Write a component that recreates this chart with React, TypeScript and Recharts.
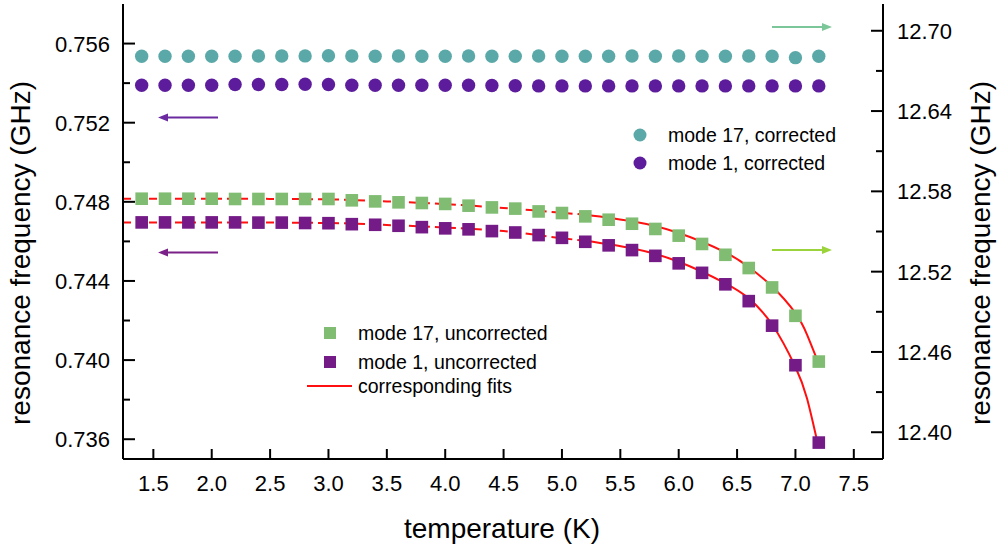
import React from "react"
import { ComposedChart, Scatter, Line, XAxis, YAxis } from "recharts"

const FONT = '"Liberation Sans", Arial, sans-serif'

// temperature (K)
const TEMPS = [
  1.4, 1.6, 1.8, 2.0, 2.2, 2.4, 2.6, 2.8, 3.0, 3.2, 3.4, 3.6, 3.8, 4.0, 4.2,
  4.4, 4.6, 4.8, 5.0, 5.2, 5.4, 5.6, 5.8, 6.0, 6.2, 6.4, 6.6, 6.8, 7.0, 7.2,
]

// mode 17, corrected (right axis)
const MODE17_CORR = [
  12.681, 12.681, 12.681, 12.681, 12.681, 12.6811, 12.6811, 12.6812, 12.6813, 12.6811,
  12.681, 12.6811, 12.681, 12.681, 12.6811, 12.681, 12.681, 12.6811, 12.681, 12.681,
  12.681, 12.6811, 12.681, 12.6811, 12.681, 12.681, 12.6811, 12.681, 12.6799, 12.681,
]

// mode 1, corrected (left axis)
const MODE1_CORR = [
  0.75389, 0.75389, 0.75389, 0.75389, 0.75393, 0.75393, 0.75393, 0.75394, 0.75393, 0.75389,
  0.75389, 0.75389, 0.75389, 0.75389, 0.75389, 0.75388, 0.75387, 0.75386, 0.75386, 0.75386,
  0.75386, 0.75386, 0.75386, 0.75386, 0.75386, 0.75386, 0.75386, 0.75386, 0.75386, 0.75386,
]

// mode 17, uncorrected (right axis)
const MODE17_UNCORR = [
  12.5745, 12.5745, 12.5745, 12.5745, 12.5743, 12.5743, 12.5743, 12.5743, 12.5743, 12.5733,
  12.5725, 12.5718, 12.5713, 12.5706, 12.5693, 12.568, 12.5671, 12.565, 12.5638, 12.5613,
  12.5588, 12.5558, 12.5519, 12.5469, 12.5407, 12.5326, 12.5227, 12.5082, 12.487, 12.4528,
]

// mode 1, uncorrected (left axis)
const MODE1_UNCORR = [
  0.74696, 0.74696, 0.74696, 0.74696, 0.74696, 0.74695, 0.74695, 0.74693, 0.74692, 0.74687,
  0.74684, 0.74679, 0.74672, 0.74666, 0.74661, 0.74652, 0.74645, 0.74632, 0.74618, 0.74598,
  0.7458, 0.74556, 0.74527, 0.74489, 0.74441, 0.74383, 0.74298, 0.74174, 0.73974, 0.73583,
]

// fits: dashed part (extrapolated) and solid part
const FIT17_DASH_T = [1.24, 2.0, 3.0, 3.5, 4.0, 4.5, 5.0, 5.2]
const FIT17_DASH = [12.5745, 12.5745, 12.574, 12.5725, 12.5705, 12.5676, 12.564, 12.5625]
const FIT17_SOLID_T = [5.2, 5.6, 6.0, 6.4, 6.6, 6.8, 7.0, 7.1, 7.19]
const FIT17_SOLID = [12.5625, 12.5576, 12.5489, 12.5344, 12.5234, 12.5089, 12.489, 12.4728, 12.4533]

const FIT1_DASH_T = [1.24, 2.0, 3.0, 3.5, 4.0, 4.5, 5.0, 5.2]
const FIT1_DASH = [0.74696, 0.74696, 0.74693, 0.74683, 0.7467, 0.74652, 0.74616, 0.74603]
const FIT1_SOLID_T = [5.2, 5.6, 6.0, 6.4, 6.6, 6.8, 7.0, 7.1, 7.19]
const FIT1_SOLID = [0.74603, 0.74565, 0.74497, 0.74388, 0.74312, 0.7418, 0.73965, 0.73804, 0.7358]

const X_TICKS = [1.5, 2.0, 2.5, 3.0, 3.5, 4.0, 4.5, 5.0, 5.5, 6.0, 6.5, 7.0, 7.5]
const LEFT_TICKS = [0.736, 0.738, 0.74, 0.742, 0.744, 0.746, 0.748, 0.75, 0.752, 0.754, 0.756]
const RIGHT_TICKS = [12.4, 12.43, 12.46, 12.49, 12.52, 12.55, 12.58, 12.61, 12.64, 12.67, 12.7]

const C_TEAL = "#5aa9a8"
const C_PURPLE_DOT = "#5c1c9c"
const C_GREEN = "#80bd73"
const C_PURPLE_SQ = "#741b87"
const C_RED = "#ff1010"

const pts = (xs: number[], ys: number[]) => xs.map((x, i) => ({ x, y: ys[i] }))

const circle = (color: string) => (p: any) => <circle cx={p.cx} cy={p.cy} r={6.7} fill={color} />
const square = (color: string) => (p: any) => (
  <rect x={p.cx - 6.3} y={p.cy - 6.3} width={12.6} height={12.6} fill={color} />
)

const BottomTick = (p: any) => (
  <g>
    <line x1={p.x} x2={p.x} y1={p.y} y2={p.y - 10} stroke="#000" strokeWidth={2} />
    <text x={p.x} y={p.y + 32} textAnchor="middle" fontSize={22} fontFamily={FONT} fill="#000">
      {Number(p.payload.value).toFixed(1)}
    </text>
  </g>
)

const TopTick = (p: any) => (
  <line x1={p.x} x2={p.x} y1={p.y} y2={p.y + 11} stroke="#000" strokeWidth={2} />
)

const LeftTick = (p: any) => {
  const major = p.index % 2 === 0
  return (
    <g>
      <line x1={p.x} x2={p.x + (major ? 12 : 7)} y1={p.y} y2={p.y} stroke="#000" strokeWidth={2} />
      {major && (
        <text x={p.x - 13} y={p.y + 8} textAnchor="end" fontSize={22} fontFamily={FONT} fill="#000">
          {Number(p.payload.value).toFixed(3)}
        </text>
      )}
    </g>
  )
}

const RightTick = (p: any) => {
  const major = p.index % 2 === 0
  return (
    <g>
      <line x1={p.x} x2={p.x - (major ? 12 : 7)} y1={p.y} y2={p.y} stroke="#000" strokeWidth={2} />
      {major && (
        <text x={p.x + 14} y={p.y + 8} textAnchor="start" fontSize={22} fontFamily={FONT} fill="#000">
          {Number(p.payload.value).toFixed(2)}
        </text>
      )}
    </g>
  )
}

const Arrow = ({ from, to, y, color }: { from: number; to: number; y: number; color: string }) => {
  const dir = to > from ? 1 : -1
  return (
    <g>
      <line x1={from} x2={to - dir * 6} y1={y} y2={y} stroke={color} strokeWidth={2} />
      <polygon points={`${to},${y} ${to - dir * 10},${y - 4} ${to - dir * 10},${y + 4}`} fill={color} />
    </g>
  )
}

export default function App() {
  return (
    <div style={{ position: "absolute", left: 0, top: 0 }}>
      <ComposedChart width={1004} height={547} margin={{ top: 4, right: 0, bottom: 0, left: 0 }}>
        <XAxis
          xAxisId="b"
          dataKey="x"
          type="number"
          domain={[1.24, 7.75]}
          allowDataOverflow
          ticks={X_TICKS}
          interval={0}
          height={88}
          tickSize={0}
          tickMargin={0}
          tick={BottomTick}
          axisLine={{ stroke: "#000", strokeWidth: 2 }}
          tickLine={false}
        />
        <XAxis
          xAxisId="t"
          orientation="top"
          dataKey="x"
          type="number"
          domain={[1.24, 7.75]}
          allowDataOverflow
          ticks={X_TICKS}
          interval={0}
          height={0}
          tickSize={0}
          tickMargin={0}
          tick={TopTick}
          axisLine={{ stroke: "#000", strokeWidth: 2 }}
          tickLine={false}
        />
        <YAxis
          yAxisId="l"
          dataKey="y"
          type="number"
          domain={[0.735, 0.758]}
          allowDataOverflow
          ticks={LEFT_TICKS}
          interval={0}
          width={123}
          tickSize={0}
          tickMargin={0}
          tick={LeftTick}
          axisLine={{ stroke: "#000", strokeWidth: 2 }}
          tickLine={false}
        />
        <YAxis
          yAxisId="r"
          orientation="right"
          dataKey="y"
          type="number"
          domain={[12.38, 12.72]}
          allowDataOverflow
          ticks={RIGHT_TICKS}
          interval={0}
          width={121}
          tickSize={0}
          tickMargin={0}
          tick={RightTick}
          axisLine={{ stroke: "#000", strokeWidth: 2 }}
          tickLine={false}
        />

        <Scatter xAxisId="b" yAxisId="r" data={pts(TEMPS, MODE17_CORR)} shape={circle(C_TEAL)} isAnimationActive={false} />
        <Scatter xAxisId="b" yAxisId="l" data={pts(TEMPS, MODE1_CORR)} shape={circle(C_PURPLE_DOT)} isAnimationActive={false} />
        <Scatter xAxisId="b" yAxisId="r" data={pts(TEMPS, MODE17_UNCORR)} shape={square(C_GREEN)} isAnimationActive={false} />
        <Scatter xAxisId="b" yAxisId="l" data={pts(TEMPS, MODE1_UNCORR)} shape={square(C_PURPLE_SQ)} isAnimationActive={false} />

        <Line xAxisId="b" yAxisId="r" data={pts(FIT17_DASH_T, FIT17_DASH)} dataKey="y" type="monotone" stroke={C_RED} strokeWidth={2} strokeDasharray="8 5" dot={false} activeDot={false} isAnimationActive={false} />
        <Line xAxisId="b" yAxisId="r" data={pts(FIT17_SOLID_T, FIT17_SOLID)} dataKey="y" type="natural" stroke={C_RED} strokeWidth={2} dot={false} activeDot={false} isAnimationActive={false} />
        <Line xAxisId="b" yAxisId="l" data={pts(FIT1_DASH_T, FIT1_DASH)} dataKey="y" type="monotone" stroke={C_RED} strokeWidth={2} strokeDasharray="8 5" dot={false} activeDot={false} isAnimationActive={false} />
        <Line xAxisId="b" yAxisId="l" data={pts(FIT1_SOLID_T, FIT1_SOLID)} dataKey="y" type="natural" stroke={C_RED} strokeWidth={2} dot={false} activeDot={false} isAnimationActive={false} />

        {/* axis titles */}
        <text transform="translate(30,253) rotate(-90)" textAnchor="middle" fontSize={28} fontFamily={FONT} fill="#000">
          resonance frequency (GHz)
        </text>
        <text transform="translate(990,253) rotate(-90)" textAnchor="middle" fontSize={28} fontFamily={FONT} fill="#000">
          resonance frequency (GHz)
        </text>
        <text x={502} y={538} textAnchor="middle" fontSize={28} fontFamily={FONT} fill="#000">
          temperature (K)
        </text>

        {/* axis arrows */}
        <Arrow from={772} to={832} y={27} color="#7cc79a" />
        <Arrow from={218} to={158} y={117.5} color="#6b2aa0" />
        <Arrow from={218} to={158} y={252.5} color="#7a2088" />
        <Arrow from={772} to={832} y={250} color="#9bd33a" />

        {/* legends */}
        <g fontFamily={FONT} fontSize={19.5} fill="#000">
          <circle cx={640} cy={135} r={6.5} fill={C_TEAL} />
          <text x={668} y={142}>mode 17, corrected</text>
          <circle cx={640} cy={163} r={6.5} fill={C_PURPLE_DOT} />
          <text x={668} y={170}>mode 1, corrected</text>

          <rect x={324} y={327} width={12} height={12} fill={C_GREEN} />
          <text x={358} y={340}>mode 17, uncorrected</text>
          <rect x={324} y={356} width={12} height={12} fill={C_PURPLE_SQ} />
          <text x={358} y={369}>mode 1, uncorrected</text>
          <line x1={307} x2={352} y1={386} y2={386} stroke={C_RED} strokeWidth={2} />
          <text x={358} y={393}>corresponding fits</text>
        </g>
      </ComposedChart>
    </div>
  )
}
